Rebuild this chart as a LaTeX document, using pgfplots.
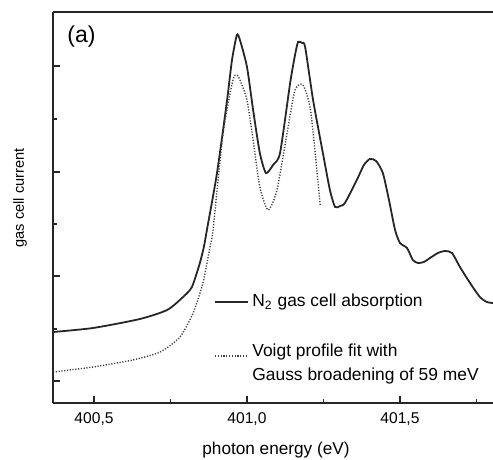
\documentclass[border=0pt]{standalone}
\usepackage{fontspec}
\setmainfont{Liberation Sans}
\usepackage{pgfplots}
\pgfplotsset{compat=1.18}
\begin{document}
\begin{tikzpicture}
\useasboundingbox (-26.5pt,-28.5pt) rectangle (220pt,201.5pt);
\begin{axis}[
  scale only axis, width=220pt, height=195.5pt,
  xmin=400.366, xmax=401.804, ymin=0, ymax=391,
  axis x line*=box, axis y line*=left,
  xtick pos=bottom, ytick pos=left,
  tick align=inside,
  xtick={400.5,401,401.5}, minor xtick={400.75,401.25,401.75},
  ytick={22,127,231,337}, minor ytick={74,179,284},
  yticklabels={},
  major tick length=3.5pt, minor tick length=1.8pt,
  tick style={black!85, line width=0.7pt},
  axis line style={black!85, line width=0.8pt},
  xticklabel style={font=\fontsize{7.8}{9}\selectfont, anchor=center, yshift=-8pt,
    /pgf/number format/.cd, use comma, fixed, fixed zerofill, precision=1, 1000 sep={}, assume math mode=true},
  clip=true,
]
\addplot[black!85, line width=0.9pt, smooth, tension=0.4] coordinates {
(400.366,71) (400.497,75) (400.650,84) (400.739,93) (400.791,106) (400.820,116) (400.846,140) (400.859,156) (400.869,173) (400.902,230) (400.935,303) (400.951,343) (400.967,368) (400.977,363) (401.000,336) (401.020,293) (401.042,250) (401.062,230) (401.085,238) (401.108,250) (401.141,320) (401.157,348) (401.167,361) (401.180,360) (401.190,356) (401.216,303) (401.248,250) (401.271,213) (401.288,196) (401.304,197) (401.320,200) (401.359,223) (401.382,238) (401.402,244) (401.422,242) (401.444,230) (401.464,203) (401.484,173) (401.500,160) (401.523,155) (401.542,143) (401.559,140) (401.578,141) (401.598,145) (401.624,150) (401.647,152) (401.670,150) (401.696,136) (401.729,120) (401.761,106) (401.784,101) (401.804,100)
};
\addplot[black!75, line width=0.7pt, dash pattern=on 0.6pt off 0.8pt, smooth, tension=0.4] coordinates {
(400.366,31) (400.497,36) (400.627,43) (400.716,51) (400.781,66) (400.824,90) (400.856,120) (400.879,156) (400.889,173) (400.922,270) (400.954,323) (400.967,328) (400.977,323) (401.000,303) (401.020,263) (401.042,216) (401.069,193) (401.098,213) (401.131,270) (401.157,313) (401.183,318) (401.206,296) (401.222,253) (401.239,198)
};
\end{axis}
% legend
\draw[black!85, line width=0.9pt] (81pt,50.5pt) -- (97.5pt,50.5pt);
\node[anchor=base west, inner sep=0pt, font=\fontsize{8.7}{10.5}\selectfont] at (99.5pt,48pt) {N\textsubscript{2} gas cell absorption};
\draw[black!75, line width=0.7pt, dash pattern=on 0.6pt off 0.8pt] (81pt,23.5pt) -- (97.5pt,23.5pt);
\node[anchor=base west, inner sep=0pt, font=\fontsize{8.7}{10.5}\selectfont] at (99.5pt,23pt) {Voigt profile fit with};
\node[anchor=base west, inner sep=0pt, font=\fontsize{8.7}{10.5}\selectfont] at (99.5pt,11pt) {Gauss broadening of 59 meV};
% panel label
\node[anchor=west, inner sep=0pt, font=\fontsize{11.5}{13}\selectfont] at (7pt,183.25pt) {(a)};
% axis labels
\node[font=\fontsize{8.6}{10}\selectfont] at (111.5pt,-23.5pt) {photon energy (eV)};
\node[rotate=90, font=\fontsize{7.3}{9}\selectfont] at (-16.5pt,102.5pt) {gas cell current};
\end{tikzpicture}
\end{document}
